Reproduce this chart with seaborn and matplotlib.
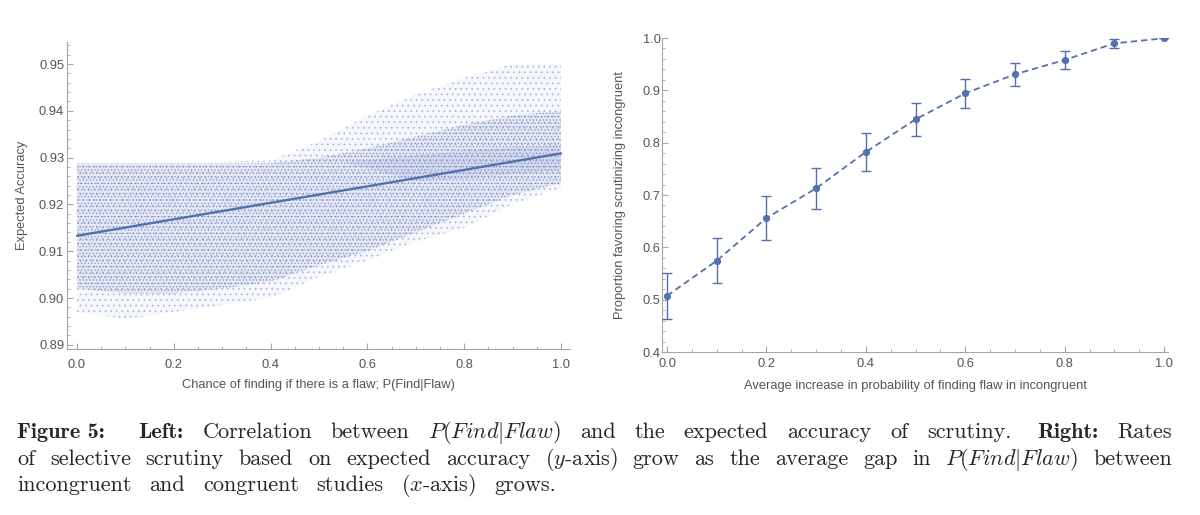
import matplotlib
matplotlib.use("Agg")
import matplotlib.pyplot as plt
import seaborn as sns
import pandas as pd
from matplotlib.ticker import MultipleLocator, FormatStrFormatter

# ---- left panel: outline of the scatter cloud + fitted line
cloud_x = [0.0, 0.1, 0.2, 0.3, 0.4, 0.5, 0.6, 0.7, 0.8, 0.9, 1.0]
sparse_hi = [0.9290, 0.9290, 0.9290, 0.9291, 0.9294, 0.9335, 0.9390, 0.9435, 0.9470, 0.9500, 0.9500]
sparse_lo = [0.8970, 0.8955, 0.8970, 0.8985, 0.9000, 0.9045, 0.9080, 0.9120, 0.9150, 0.9200, 0.9235]
body_hi = [0.9287, 0.9287, 0.9287, 0.9287, 0.9288, 0.9300, 0.9320, 0.9345, 0.9370, 0.9390, 0.9400]
body_lo = [0.9020, 0.9010, 0.9010, 0.9020, 0.9035, 0.9070, 0.9100, 0.9140, 0.9180, 0.9220, 0.9245]
core_x = [0.55, 0.7, 0.8, 0.9, 1.0]
core_hi = [0.9290, 0.9305, 0.9315, 0.9322, 0.9328]
core_lo = [0.9290, 0.9250, 0.9255, 0.9265, 0.9272]
fit_x = [0.0, 1.0]
fit_y = [0.9133, 0.9309]

# ---- right panel: proportion favouring scrutiny of incongruent studies
gap = [0.0, 0.1, 0.2, 0.3, 0.4, 0.5, 0.6, 0.7, 0.8, 0.9, 1.0]
prop = [0.5076, 0.5745, 0.6560, 0.7128, 0.7822, 0.8446, 0.8943, 0.9306, 0.9580, 0.9898, 0.9994]
err_lo = [0.4630, 0.5312, 0.6146, 0.6726, 0.7458, 0.8121, 0.8668, 0.9077, 0.9402, 0.9803, 0.9994]
err_hi = [0.5503, 0.6184, 0.6987, 0.7522, 0.8179, 0.8764, 0.9211, 0.9522, 0.9752, 0.9987, 0.9994]

sns.set_style("white")
plt.rcParams['font.family'] = ['Liberation Sans', 'DejaVu Sans']
plt.rcParams['mathtext.fontset'] = 'cm'
plt.rcParams['hatch.linewidth'] = 0.6

blue = '#5470ad'
dot = '#7086c4'
axis_grey = '#a6a6a6'
text_grey = '#555555'

fig = plt.figure(figsize=(12, 5.15), dpi=100)
ax1 = fig.add_axes([0.0558, 0.3223, 0.4192, 0.5961])
ax2 = fig.add_axes([0.5517, 0.3165, 0.4217, 0.6097])

# scatter cloud drawn as stippled bands
ax1.fill_between(cloud_x, sparse_lo, sparse_hi, facecolor=dot, alpha=0.06,
                 edgecolor='none', linewidth=0)
ax1.fill_between(cloud_x, sparse_lo, sparse_hi, facecolor='none', hatch='...',
                 edgecolor=(0.44, 0.52, 0.77, 0.45), linewidth=0)
ax1.fill_between(cloud_x, body_lo, body_hi, facecolor=dot, alpha=0.11,
                 edgecolor='none', linewidth=0)
ax1.fill_between(cloud_x, body_lo, body_hi, facecolor='none', hatch='.....',
                 edgecolor=(0.40, 0.48, 0.75, 0.7), linewidth=0)
ax1.fill_between(core_x, core_lo, core_hi, facecolor=dot, alpha=0.14,
                 edgecolor='none', linewidth=0)
sns.lineplot(x=fit_x, y=fit_y, ax=ax1, color=blue, linewidth=1.7)

ax1.set_xlim(-0.0207, 1.0186)
ax1.set_ylim(0.8891, 0.9547)
ax1.xaxis.set_major_locator(MultipleLocator(0.2))
ax1.xaxis.set_minor_locator(MultipleLocator(0.05))
ax1.yaxis.set_major_locator(MultipleLocator(0.01))
ax1.yaxis.set_minor_locator(MultipleLocator(0.002))
ax1.xaxis.set_major_formatter(FormatStrFormatter('%.1f'))
ax1.yaxis.set_major_formatter(FormatStrFormatter('%.2f'))
ax1.set_xlabel('Chance of finding if there is a flaw; P(Find|Flaw)', fontsize=9.3, color=text_grey)
ax1.set_ylabel('Expected Accuracy', fontsize=9.3, color=text_grey)
ax1.xaxis.set_label_coords(0.5, -0.097)
ax1.yaxis.set_label_coords(-0.0775, 0.5)
ax1.tick_params(axis='x', pad=7.5)
ax1.tick_params(axis='y', pad=2)

# right panel
df = pd.DataFrame({'gap': gap, 'prop': prop})
sns.lineplot(data=df, x='gap', y='prop', ax=ax2, color=blue, linewidth=1.3,
             dashes=False, linestyle=(0, (3.5, 2.2)))
yerr = [[p - lo for p, lo in zip(prop, err_lo)], [hi - p for p, hi in zip(prop, err_hi)]]
ax2.errorbar(gap, prop, yerr=yerr, fmt='o', color=blue, markersize=4.2,
             elinewidth=1.0, capsize=3.5, capthick=1.0, zorder=3)
ax2.set_xlim(-0.0101, 1.0081)
ax2.set_ylim(0.4, 1.0)
ax2.xaxis.set_major_locator(MultipleLocator(0.2))
ax2.xaxis.set_minor_locator(MultipleLocator(0.05))
ax2.yaxis.set_major_locator(MultipleLocator(0.1))
ax2.yaxis.set_minor_locator(MultipleLocator(0.02))
ax2.xaxis.set_major_formatter(FormatStrFormatter('%.1f'))
ax2.yaxis.set_major_formatter(FormatStrFormatter('%.1f'))
ax2.set_xlabel('Average increase in probability of finding flaw in incongruent', fontsize=9.3, color=text_grey)
ax2.set_ylabel('Proportion favoring scrutinizing incongruent', fontsize=9.3, color=text_grey)
ax2.xaxis.set_label_coords(0.5, -0.088)
ax2.yaxis.set_label_coords(-0.071, 0.5)
ax2.tick_params(axis='x', pad=4.5)
ax2.tick_params(axis='y', pad=1)

for ax in (ax1, ax2):
    sns.despine(ax=ax)
    for side in ('left', 'bottom'):
        ax.spines[side].set_color(axis_grey)
        ax.spines[side].set_linewidth(0.8)
    ax.tick_params(which='both', direction='in', color=axis_grey, labelcolor=text_grey,
                   labelsize=9.3, left=True, bottom=True)
    ax.tick_params(which='major', length=4, width=0.8)
    ax.tick_params(which='minor', length=2, width=0.6)

# ---- caption, justified word by word like the LaTeX original
cap_size = 16
W, H = fig.get_size_inches() * fig.dpi
B = 'bold'
lines = [
    [("Figure 5:", B), ("Left:", B), "Correlation", "between", "$P(Find|Flaw)$", "and", "the",
     "expected", "accuracy", "of", "scrutiny.", ("Right:", B), "Rates"],
    ["of", "selective", "scrutiny", "based", "on", "expected", "accuracy", "($y$-axis)", "grow",
     "as", "the", "average", "gap", "in", "$P(Find|Flaw)$", "between"],
    ["incongruent", "and", "congruent", "studies", "($x$-axis)", "grows."],
]
baselines = [438, 465, 491]
line_ends = [1172, 1172, 556]
x_left = 17

renderer = fig.canvas.get_renderer()
for li, (words, base) in enumerate(zip(lines, baselines)):
    texts = []
    for w in words:
        if isinstance(w, tuple):
            t = fig.text(0, 1 - base / H, w[0], fontfamily='cmb10', fontsize=cap_size, va='baseline')
        else:
            t = fig.text(0, 1 - base / H, w, fontfamily='cmr10', fontsize=cap_size, va='baseline')
        texts.append(t)
    widths = [t.get_window_extent(renderer).width for t in texts]
    weights = [1.0] * (len(words) - 1)
    if li == 0:
        weights[0] = 1.8
        weights[10] = 1.4
    unit = (line_ends[li] - x_left - sum(widths)) / sum(weights)
    x = x_left
    for i, t in enumerate(texts):
        t.set_x(x / W)
        x += widths[i] + (weights[i] * unit if i < len(weights) else 0)

fig.savefig('out.png', dpi=100, facecolor='white')
